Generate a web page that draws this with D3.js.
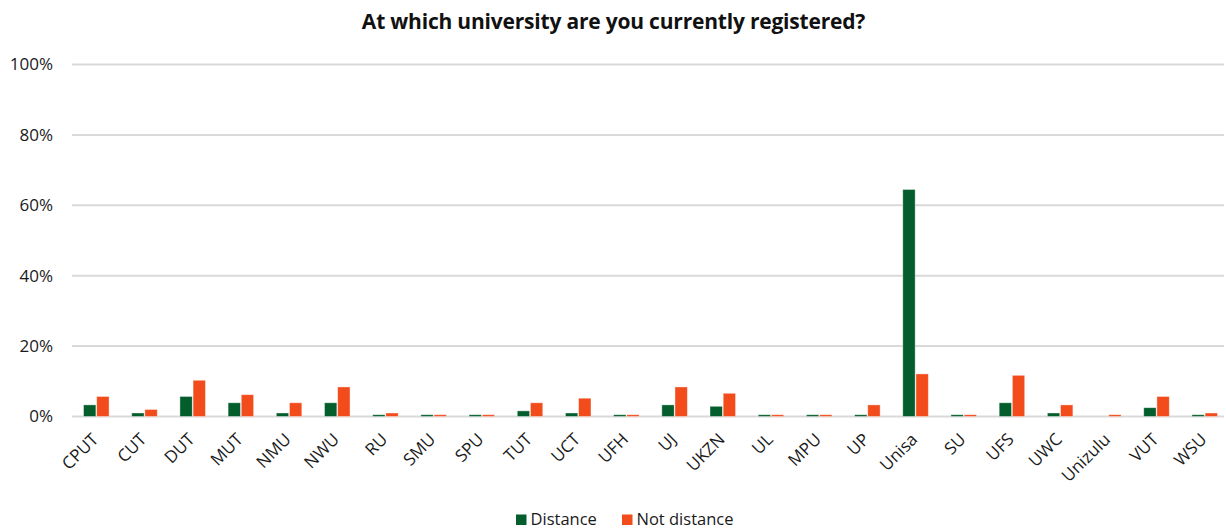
<!DOCTYPE html>
<html><head><meta charset="utf-8">
<script src="https://cdn.jsdelivr.net/npm/d3@7"></script>
<style>body{margin:0;background:#fff;} svg{display:block;font-family:"Open Sans",sans-serif;}</style>
</head><body><svg id="c" width="1226" height="529"></svg>
<script>
const categories = ["CPUT","CUT","DUT","MUT","NMU","NWU","RU","SMU","SPU","TUT","UCT","UFH","UJ","UKZN","UL","MPU","UP","Unisa","SU","UFS","UWC","Unizulu","VUT","WSU"];
const distance    = [3.3,1.0,5.7,3.9,1.0,3.9,0.5,0.5,0.5,1.6,1.0,0.5,3.3,2.9,0.5,0.5,0.5,64.5,0.5,3.9,1.0,0,2.5,0.5];
const notDistance = [5.7,2.0,10.3,6.2,3.9,8.4,1.0,0.5,0.5,3.9,5.2,0.5,8.4,6.6,0.5,0.5,3.3,12.1,0.5,11.7,3.3,0.5,5.7,1.0];
const yTicks = [0,20,40,60,80,100];
const seriesNames = ["Distance","Not distance"];
const colors = ["#045d2c","#f24c1c"];

const svg = d3.select("#c");
const W = 1226, H = 529;
const x = d3.scaleBand().domain(categories).range([72.2, 1228.8]).paddingInner(0.47).paddingOuter(0.235);
const x1 = d3.scaleBand().domain(seriesNames).range([0, x.bandwidth()]).paddingInner(0.06);
const y = d3.scaleLinear().domain([0,100]).range([416.5, 64.5]);

// gridlines
svg.append("g").selectAll("line").data(yTicks).join("line")
  .attr("x1", 72).attr("x2", 1224)
  .attr("y1", d=>y(d)).attr("y2", d=>y(d))
  .attr("stroke", "#d9d9d9").attr("stroke-width", 2);

// y axis labels
const yAxis = d3.axisLeft(y).tickValues(yTicks).tickFormat(d=>d+"%").tickSize(0).tickPadding(19);
const gy = svg.append("g").attr("transform", `translate(72,0)`).call(yAxis);
gy.select(".domain").remove();
gy.selectAll("text").attr("font-size", 17).attr("fill", "#1a1a1a").attr("font-family","'Open Sans',sans-serif");

// bars
const data = categories.map((c,i)=>({c, vals:[distance[i], notDistance[i]]}));
const groups = svg.append("g").selectAll("g").data(data).join("g")
  .attr("transform", d=>`translate(${x(d.c)},0)`);
groups.selectAll("rect").data(d=>d.vals.map((v,j)=>({v, s:seriesNames[j], j})).filter(e=>e.v>0)).join("rect")
  .attr("x", e=>x1(e.s)).attr("width", x1.bandwidth())
  .attr("y", e=>y(e.v)).attr("height", e=>y(0)-y(e.v))
  .attr("fill", e=>colors[e.j])
  .attr("stroke", "#fff").attr("stroke-opacity", 0.5).attr("stroke-width", 0.8);

// x axis labels
const xAxis = d3.axisBottom(x).tickSize(0).tickPadding(0);
const gx = svg.append("g").attr("transform", `translate(0,${y(0)})`).call(xAxis);
gx.select(".domain").remove();
gx.selectAll("text")
  .attr("font-size", 17).attr("fill", "#1a1a1a").attr("font-family","'Open Sans',sans-serif")
  .attr("text-anchor", "end")
  .attr("dy", 0)
  .attr("transform", "translate(3,24) rotate(-45)");

// title
svg.append("text").attr("x", 613.5).attr("y", 29).attr("text-anchor","middle")
  .attr("font-size", 21).attr("font-weight", "bold").attr("fill","#111")
  .attr("letter-spacing", -0.2)
  .text("At which university are you currently registered?");

// legend
const leg = svg.append("g");
const legItems = [{n:seriesNames[0], c:colors[0], x:516},{n:seriesNames[1], c:colors[1], x:622}];
legItems.forEach(it=>{
  leg.append("rect").attr("x", it.x).attr("y", 514.5).attr("width", 10.5).attr("height", 10.5).attr("fill", it.c);
  leg.append("text").attr("x", it.x+14.5).attr("y", 524.5).attr("font-size", 16.5).attr("fill","#1a1a1a").text(it.n);
});
</script></body></html>
